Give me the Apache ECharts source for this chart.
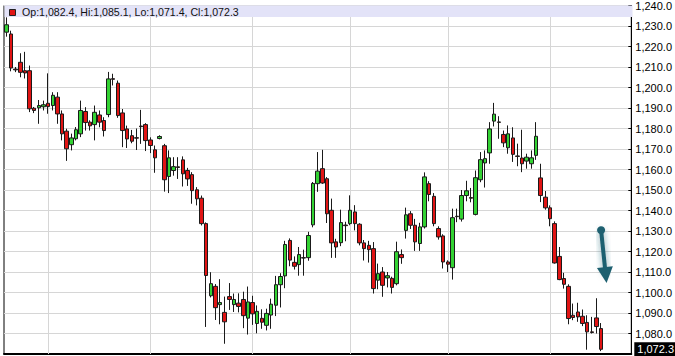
<!DOCTYPE html>
<html>
<head>
<meta charset="utf-8">
<script src="https://cdn.jsdelivr.net/npm/echarts@6/dist/echarts.min.js"></script>
<style>
html,body{margin:0;padding:0;background:#fff;}
#chart{width:675px;height:356px;}
</style>
</head>
<body>
<div id="chart"></div>
<script>
// ---- data ----
const opens = [
1227.0,1226.1,1209.0,1212.3,1208.2,1208.2,1189.9,1190.1,1190.6,1192.3,
1191.2,1195.3,1187.1,1178.7,1172.1,1175.0,1177.4,1188.3,1183.1,1181.9,
1186.6,1183.9,1186.8,1204.3,1202.1,1187.6,1179.8,1176.5,1175.5,1181.2,
1181.9,1174.4,1169.6,1175.1,1171.6,1156.6,1159.5,1161.3,1164.7,1159.5,
1157.5,1150.1,1146.0,1133.6,1098.4,1103.0,1094.1,1090.3,1098.0,1094.1,
1094.8,1096.6,1087.5,1095.1,1084.9,1087.4,1084.0,1089.0,1093.8,1103.8,
1108.1,1125.4,1114.7,1113.6,1117.0,1117.0,1133.0,1153.1,1160.4,1155.5,
1140.1,1124.7,1124.3,1132.9,1133.6,1139.3,1133.3,1124.2,1123.0,1121.4,
1106.0,1110.0,1107.1,1106.9,1104.3,1118.5,1130.3,1138.4,1132.8,1123.9,
1132.0,1153.1,1146.9,1131.2,1127.6,1114.9,1112.1,1137.2,1135.8,1147.3,
1146.3,1138.1,1155.0,1163.2,1168.1,1183.6,1183.2,1177.1,1170.6,1175.4,
1166.6,1165.6,1164.1,1162.8,1166.9,1155.9,1146.5,1141.3,1133.6,1117.6,
1106.8,1103.0,1088.9,1090.5,1088.4,1085.4,1080.8,1087.6,1082.4
];
const closes = [
1230.6,1209.5,1208.6,1207.4,1207.1,1189.6,1188.8,1191.2,1191.6,1190.7,
1196.2,1187.1,1177.4,1170.1,1175.4,1179.4,1188.8,1182.9,1181.3,1187.9,
1183.1,1179.0,1204.2,1204.0,1186.3,1179.0,1174.9,1173.8,1175.3,1180.9,
1174.1,1171.7,1165.7,1176.1,1155.0,1165.7,1161.4,1161.0,1157.9,1155.4,
1149.7,1145.7,1133.6,1108.3,1104.3,1092.6,1095.1,1085.7,1096.6,1096.6,
1093.2,1088.7,1095.4,1089.6,1090.8,1085.5,1089.8,1094.3,1103.8,1107.8,
1123.4,1115.8,1112.8,1118.5,1116.8,1127.8,1153.2,1159.2,1153.4,1138.4,
1124.2,1122.2,1134.1,1132.6,1140.1,1133.6,1124.2,1121.4,1120.9,1101.9,
1109.2,1103.5,1108.2,1102.5,1119.9,1117.0,1137.9,1132.8,1124.7,1132.0,
1156.4,1147.8,1133.6,1127.1,1114.9,1113.8,1136.5,1137.0,1147.3,1149.6,
1146.0,1156.0,1164.8,1165.3,1179.8,1187.0,1183.0,1173.0,1177.4,1167.4,
1166.4,1162.8,1166.0,1165.7,1176.2,1147.3,1141.3,1136.0,1114.4,1106.3,
1104.0,1087.3,1087.8,1088.1,1084.9,1080.8,1080.5,1083.4,1072.3
];
const lows = [
1224.8,1207.9,1207.5,1205.0,1204.4,1188.0,1187.5,1182.3,1188.8,1187.2,
1188.8,1182.3,1174.2,1164.2,1169.3,1174.2,1175.8,1179.0,1179.0,1174.2,
1180.6,1176.1,1185.5,1201.0,1185.2,1170.9,1170.5,1172.8,1169.5,1172.5,
1169.0,1168.0,1158.4,1174.7,1149.2,1148.5,1157.0,1155.4,1151.7,1152.0,
1143.3,1142.5,1132.7,1083.2,1097.6,1086.6,1084.5,1075.0,1091.5,1090.5,
1090.3,1082.6,1079.5,1084.2,1080.1,1082.3,1081.5,1082.3,1088.5,1092.7,
1102.1,1112.8,1111.2,1108.2,1108.2,1115.5,1131.8,1149.1,1153.0,1133.9,
1116.9,1116.9,1122.6,1125.0,1132.8,1130.3,1123.0,1115.6,1114.6,1099.5,
1101.6,1097.9,1102.5,1099.5,1103.5,1114.0,1126.3,1131.0,1120.3,1120.3,
1131.2,1144.5,1132.3,1125.8,1111.7,1110.0,1106.3,1134.3,1134.6,1144.5,
1144.0,1137.6,1153.8,1151.2,1162.8,1181.0,1175.0,1170.9,1167.7,1163.7,
1161.6,1158.7,1160.4,1160.4,1164.7,1144.1,1140.4,1132.3,1114.1,1106.0,
1101.9,1084.5,1086.5,1085.7,1083.6,1072.1,1080.0,1080.0,1071.4
];
const highs = [
1234.2,1227.7,1210.0,1216.7,1217.4,1210.7,1190.5,1193.9,1193.6,1206.9,
1197.7,1197.7,1188.8,1179.9,1177.5,1180.7,1193.6,1190.4,1184.0,1191.2,
1188.8,1185.5,1207.6,1206.7,1203.4,1189.5,1181.4,1179.3,1180.0,1189.1,
1182.6,1175.7,1171.7,1176.7,1172.5,1169.3,1166.0,1166.0,1166.4,1160.8,
1158.7,1151.4,1147.3,1134.2,1109.9,1104.1,1106.5,1098.0,1104.6,1099.5,
1099.6,1100.4,1102.9,1098.4,1093.7,1091.8,1092.1,1097.0,1108.1,1109.4,
1125.2,1126.4,1117.6,1122.2,1120.9,1129.6,1153.9,1168.5,1169.6,1156.3,
1145.8,1126.2,1140.4,1134.5,1147.4,1142.6,1133.8,1125.6,1125.2,1124.6,
1114.1,1112.4,1110.0,1107.7,1124.8,1121.0,1141.4,1139.7,1135.9,1134.0,
1158.6,1154.3,1148.5,1132.3,1128.4,1115.7,1140.9,1140.9,1150.0,1154.5,
1151.0,1159.5,1168.5,1169.3,1183.1,1192.5,1186.0,1179.0,1181.5,1180.6,
1172.6,1179.4,1167.7,1169.3,1183.1,1162.8,1149.5,1142.5,1134.7,1122.2,
1109.6,1104.0,1094.6,1095.0,1091.7,1088.9,1088.1,1097.2,1085.1
];
// empty future slots on the right of the last candle
const futureSlots = 6;
// candle indices where the monthly vertical grid lines fall
const monthStarts = [9, 31, 53, 74, 95, 117];
// price axis
const yMin = 1070, yMax = 1240, yStep = 10;
// annotation arrow (category index, price)
const arrowFrom = [128, 1130.4];
const arrowTo = [129, 1108.5];

// ---- helpers ----
function fmt(v) {
  const s = Number(v).toFixed(1);
  const parts = s.split('.');
  return parts[0].replace(/\B(?=(\d{3})+(?!\d))/g, ',') + '.' + parts[1];
}
const FONT = '"Liberation Sans", Arial, Helvetica, sans-serif';
const last = opens.length - 1;
const categories = opens.map((_, i) => 'D' + (i + 1))
  .concat(Array.from({length: futureSlots}, (_, i) => 'F' + (i + 1)));
const candles = opens.map((o, i) => [o, closes[i], lows[i], highs[i]]);
const legendText = 'Op:' + fmt(opens[last]) + ', Hi:' + fmt(highs[last]) +
  ', Lo:' + fmt(lows[last]) + ', Cl:' + fmt(closes[last]);

const chart = echarts.init(document.getElementById('chart'), null, {renderer: 'svg'});
chart.setOption({
  animation: false,
  backgroundColor: '#ffffff',
  grid: {left: 4, right: 42, top: 5, bottom: 2, show: true,
         borderColor: '#000', borderWidth: 1, backgroundColor: '#ffffff'},
  xAxis: {
    type: 'category', data: categories, boundaryGap: true,
    axisLine: {show: true, lineStyle: {color: '#000', width: 2}},
    axisTick: {show: false}, axisLabel: {show: false}, splitLine: {show: false}
  },
  yAxis: {
    type: 'value', position: 'right', min: yMin, max: yMax, interval: yStep,
    axisLine: {show: true, lineStyle: {color: '#000', width: 1}},
    axisTick: {show: true, inside: true, length: 3, lineStyle: {color: '#000'}},
    axisLabel: {margin: 4, color: '#000', fontFamily: FONT, fontSize: 11,
      formatter: v => (v === yMin ? '' : fmt(v))},
    splitLine: {show: true, lineStyle: {color: '#d6d6d6', width: 1}}
  },
  graphic: [
    {type: 'rect', z: 10, silent: true, shape: {x: 4.5, y: 5.5, width: 628, height: 11.5},
     style: {fill: '#e3e3f8'}},
    {type: 'rect', z: 11, silent: true, shape: {x: 9.5, y: 9.5, width: 6, height: 6},
     style: {fill: '#e01414', stroke: '#222', lineWidth: 1}},
    {type: 'text', z: 11, silent: true, x: 22, y: 12,
     style: {text: legendText, fontSize: 10.6, fontFamily: FONT, fill: '#111',
             align: 'left', verticalAlign: 'middle'}}
  ],
  series: [
    {
      type: 'line', data: [], silent: true,
      markLine: {
        z: 1, silent: true, animation: false, symbol: ['none', 'none'],
        label: {show: false},
        lineStyle: {color: '#d6d6d6', width: 1, type: 'solid'},
        data: monthStarts.map(i => ({xAxis: i}))
      }
    },
    {
      type: 'candlestick', data: candles, barWidth: 4, z: 3,
      itemStyle: {color: '#33d233', color0: '#e01414',
                  borderColor: '#1a1a1a', borderColor0: '#1a1a1a', borderWidth: 1},
      markLine: {
        z: 6, silent: true, animation: false, symbol: ['none', 'none'],
        label: {show: false},
        data: [
          {yAxis: closes[last],
           lineStyle: {color: 'rgba(0,0,0,0)', width: 1},
           label: {show: true, position: 'end', formatter: fmt(closes[last]),
                   color: '#fff', backgroundColor: '#000', padding: [2, 3, 1, 3],
                   fontSize: 11, fontFamily: FONT, distance: 3}},
          [
            {coord: arrowFrom, symbol: 'circle', symbolSize: 8,
             lineStyle: {color: '#1e6070', width: 4, type: 'solid',
                         shadowBlur: 6, shadowColor: 'rgba(30,96,112,0.6)'},
             itemStyle: {color: '#1e6070'}},
            {coord: arrowTo, symbol: 'triangle', symbolSize: [16, 16],
             itemStyle: {color: '#1e6070'}}
          ]
        ]
      }
    }
  ]
});
</script>
</body>
</html>
